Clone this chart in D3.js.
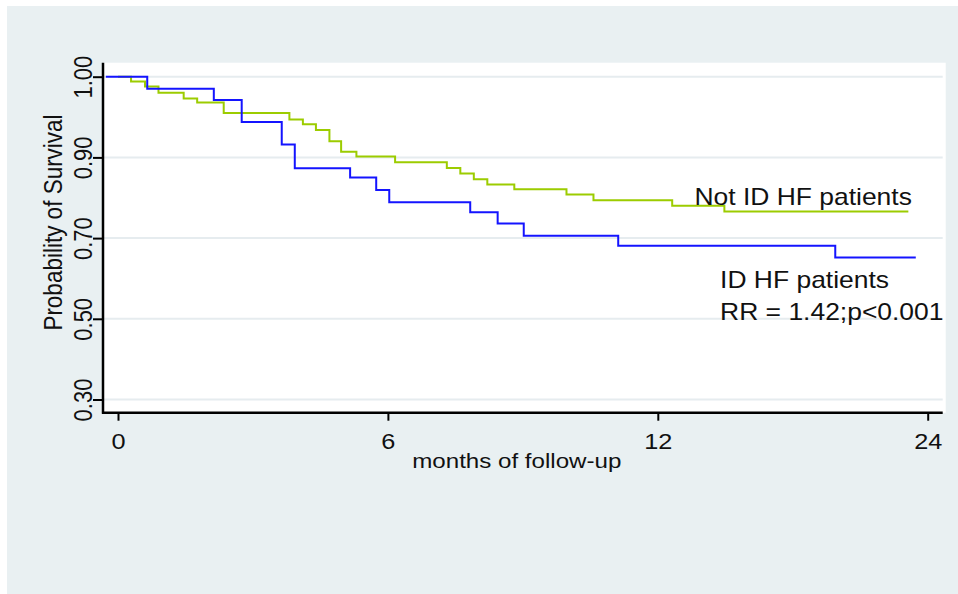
<!doctype html>
<html>
<head>
<meta charset="UTF-8">
<script src="https://d3js.org/d3.v7.min.js"></script>
<title>Survival</title>
<style>
  body { margin: 0; background: #fff; }
  text { font-family: "Liberation Sans", Arial, sans-serif; fill: #111; }
</style>
</head>
<body>
<div id="graph"></div>
<script>
// tick labels as printed on the chart
var xTicks = [0, 6, 12, 24];
var yTicks = [1.00, 0.90, 0.70, 0.50, 0.30];

// ID HF patients
var idTime = [-0.27, 0.65, 2.13, 2.75, 3.64, 3.93, 5.16, 5.74, 6.03, 7.83, 8.44, 9.02, 11.12, 19.89, 23.47];
var idSurv = [1.00, 0.985, 0.971, 0.944, 0.916, 0.873, 0.850, 0.819, 0.789, 0.764, 0.736, 0.706, 0.681, 0.652, 0.652];

// Not ID HF patients
var notTime = [0, 0.29, 0.60, 0.90, 1.46, 1.76, 2.35, 3.81, 4.11, 4.40, 4.70, 4.96, 5.30, 6.16, 7.31, 7.61, 7.91, 8.21, 8.81, 9.97, 10.57, 12.64, 14.96, 23.14];
var notSurv = [1.00, 0.994, 0.988, 0.980, 0.973, 0.968, 0.955, 0.947, 0.941, 0.934, 0.920, 0.907, 0.901, 0.888, 0.874, 0.860, 0.846, 0.833, 0.821, 0.808, 0.794, 0.780, 0.766, 0.766];

var labels = [
    {text: "Not ID HF patients", x: 13.63, y: 0.782},
    {text: "ID HF patients", x: 14.77, y: 0.576},
    {text: "RR = 1.42;p<0.001", x: 14.77, y: 0.498}
];

var w = 958, h = 594;
var pLeft = 103, pRight = 945.7, pTop = 62.7, pBottom = 412.7;
var sx = 1.15;   // glyphs in the original are stretched sideways

var vis = d3.select("#graph").append("svg")
    .attr("width", w)
    .attr("height", h);

vis.append("rect").attr("width", w).attr("height", h).attr("fill", "#fff");
vis.append("rect").attr("x", 7).attr("y", 6).attr("width", w - 7).attr("height", h - 6).attr("fill", "#e9f0f2");
vis.append("rect").attr("x", pLeft).attr("y", pTop).attr("width", pRight - pLeft).attr("height", pBottom - pTop).attr("fill", "#fff");

var xStep = (pRight - pLeft - 33) / (xTicks.length - 1);
var x = d3.scaleLinear()
    .domain(xTicks)
    .range(xTicks.map(function(d, i) { return pLeft + 15 + i * xStep; }));

var yStep = (pBottom - pTop - 27.2) / (yTicks.length - 1);
var y = d3.scaleLinear()
    .domain(yTicks)
    .range(yTicks.map(function(d, i) { return pTop + 14 + i * yStep; }));

// grid
vis.selectAll(".grid")
    .data(yTicks)
    .enter().append("line")
    .attr("x1", pLeft).attr("x2", pRight - 3)
    .attr("y1", function(d) { return y(d); })
    .attr("y2", function(d) { return y(d); })
    .style("stroke", "#e6ecef")
    .style("stroke-width", 2);

// curves
var line = d3.line()
    .x(function(d) { return x(d[0]); })
    .y(function(d) { return y(d[1]); })
    .curve(d3.curveStepAfter);

vis.append("path")
    .attr("d", line(d3.zip(notTime, notSurv)))
    .attr("fill", "none")
    .style("stroke", "#9ccc00")
    .style("stroke-width", 2);

vis.append("path")
    .attr("d", line(d3.zip(idTime, idSurv)))
    .attr("fill", "none")
    .style("stroke", "#1414ff")
    .style("stroke-width", 2);

// axes
var yAxis = vis.append("g")
    .attr("transform", "translate(" + pLeft + ",0)")
    .call(d3.axisLeft(y).tickValues(yTicks).tickSize(10).tickSizeOuter(0)
        .tickFormat(function(d) { return d3.format(".2f")(d); }));
yAxis.select(".domain").remove();
yAxis.selectAll(".tick line").style("stroke", "#000").style("stroke-width", 2);
yAxis.selectAll(".tick text")
    .attr("x", 0).attr("dy", 0)
    .attr("text-anchor", "middle")
    .attr("transform", "translate(-11.3,0) scale(" + sx + ",1) rotate(-90)")
    .style("font-size", "22px")
    .attr("fill", "#111");

var xAxis = vis.append("g")
    .attr("transform", "translate(0," + pBottom + ")")
    .call(d3.axisBottom(x).tickValues(xTicks).tickSize(8).tickSizeOuter(0));
xAxis.select(".domain").remove();
xAxis.selectAll(".tick line").style("stroke", "#000").style("stroke-width", 2);
xAxis.selectAll(".tick text")
    .attr("y", 36.6).attr("dy", 0)
    .attr("transform", "scale(" + sx + ",1)")
    .style("font-size", "22px")
    .attr("fill", "#111");

vis.append("line")
    .attr("x1", pLeft).attr("x2", pLeft)
    .attr("y1", pTop).attr("y2", pBottom + 1)
    .style("stroke", "#000").style("stroke-width", 2.5);
vis.append("line")
    .attr("x1", pLeft - 1).attr("x2", pRight - 3)
    .attr("y1", pBottom).attr("y2", pBottom)
    .style("stroke", "#000").style("stroke-width", 2.5);

// titles
vis.append("text")
    .attr("text-anchor", "middle")
    .attr("transform", "translate(516.8,468.3) scale(" + sx + ",1)")
    .style("font-size", "21px")
    .text("months of follow-up");

vis.append("text")
    .attr("text-anchor", "middle")
    .attr("transform", "translate(61.7,222.5) scale(" + sx + ",1) rotate(-90)")
    .style("font-size", "22.5px")
    .text("Probability of Survival");

vis.selectAll(".lab")
    .data(labels)
    .enter().append("text")
    .attr("transform", function(d) { return "translate(" + x(d.x) + "," + y(d.y) + ") scale(" + sx + ",1)"; })
    .style("font-size", "23px")
    .text(function(d) { return d.text; });
</script>
</body>
</html>
